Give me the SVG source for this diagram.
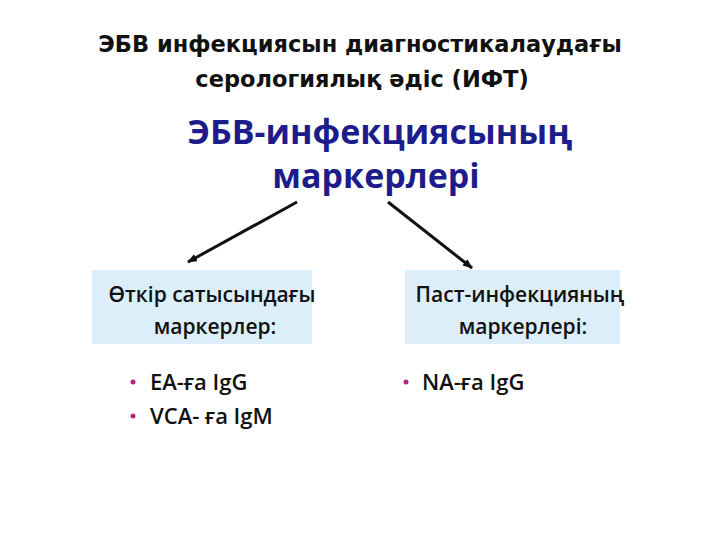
<svg xmlns="http://www.w3.org/2000/svg" width="720" height="540" viewBox="0 0 720 540">
<style>
.t{font-family:"DejaVu Sans",sans-serif;font-weight:bold;font-size:22.5px;fill:#111;text-anchor:middle}
.h{font-family:"Open Sans","Noto Sans",sans-serif;font-weight:bold;font-size:34px;fill:#1c1c8a;text-anchor:middle}
.b{font-family:"Open Sans","Noto Sans",sans-serif;font-weight:600;font-size:21px;fill:#111;text-anchor:middle}
.l{font-family:"Open Sans","Noto Sans",sans-serif;font-weight:600;font-size:22px;fill:#111}
.box{fill:#dbeef9}
.dot{fill:#b0267e}
</style>
<defs><marker id="a" markerWidth="10" markerHeight="8" refX="9" refY="4" orient="auto" markerUnits="userSpaceOnUse"><path d="M0,0L10,4L0,8z" fill="#111"/></marker></defs>
<g id="title"><text class="t" x="360" y="52">ЭБВ инфекциясын диагностикалаудағы</text><text class="t" x="362" y="87">серологиялық әдіс (ИФТ)</text></g>
<g id="heading"><text class="h" x="380" y="144">ЭБВ-инфекциясының</text><text class="h" x="376" y="188">маркерлері</text></g>
<g id="connectors" stroke="#111" stroke-width="3"><line x1="297" y1="202" x2="188" y2="262" marker-end="url(#a)"/><line x1="388" y1="202" x2="472" y2="268" marker-end="url(#a)"/></g>
<g id="left"><rect class="box" x="92" y="270" width="220" height="74"/><text class="b" x="212" y="302">Өткір сатысындағы</text><text class="b" x="215" y="334">маркерлер:</text>
<circle class="dot" cx="133" cy="382" r="2.5"/><text class="l" x="150" y="390">EA-ға IgG</text>
<circle class="dot" cx="133" cy="416" r="2.5"/><text class="l" x="150" y="424">VCA- ға IgM</text></g>
<g id="right"><rect class="box" x="405" y="270" width="215" height="74"/><text class="b" x="520" y="302">Паст-инфекцияның</text><text class="b" x="523" y="334">маркерлері:</text>
<circle class="dot" cx="406" cy="382" r="2.5"/><text class="l" x="422" y="390">NA-ға IgG</text></g>
</svg>
